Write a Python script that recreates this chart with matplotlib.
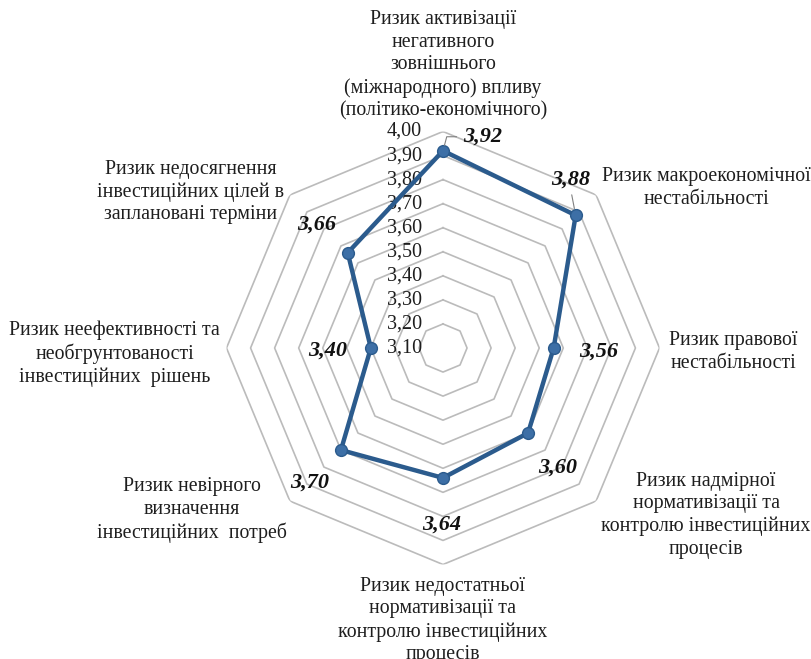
import numpy as np
import matplotlib
matplotlib.use("Agg")
import matplotlib.pyplot as plt

# --- data -------------------------------------------------------------
categories = [
    "Ризик активізації\nнегативного\nзовнішнього\n(міжнародного) впливу\n(політико-економічного)",
    "Ризик макроекономічної\nнестабільності",
    "Ризик правової\nнестабільності",
    "Ризик надмірної\nнормативізації та\nконтролю інвестиційних\nпроцесів",
    "Ризик недостатньої\nнормативізації та\nконтролю інвестиційних\nпроцесів",
    "Ризик невірного\nвизначення\nінвестиційних  потреб",
    "Ризик неефективності та\nнеобгрунтованості\nінвестиційних  рішень",
    "Ризик недосягнення\nінвестиційних цілей в\nзаплановані терміни",
]
values = [3.92, 3.88, 3.56, 3.60, 3.64, 3.70, 3.40, 3.66]
r_min, r_max = 3.10, 4.00
ring_levels = [3.20, 3.30, 3.40, 3.50, 3.60, 3.70, 3.80, 3.90, 4.00]
tick_levels = [3.10] + ring_levels

# --- layout (pixel offsets, converted to points below) ----------------
value_label_offsets = [(40, 14), (-5, 36), (45, -4), (30, -35),
                       (-1, -47), (-31, -33), (-43, -3), (-31, 28)]
cat_label_offsets = [(0, 66), (110, 7), (74, -4), (110, -14),
                     (0, -56), (-98, -9), (-112, -6), (-99, 3)]
PX = 0.72  # points per pixel at dpi 100

SERIF = "Liberation Serif"
LINE_COL = "#2B5B8D"
MARK_COL = "#3D6FA6"
GRID_COL = "#BBBBBB"
TEXT_COL = "#1E1E1E"

fig = plt.figure(figsize=(8.12, 6.59), dpi=100)
fig.patch.set_facecolor("white")

# centre at (443, 348) px from top-left, outer ring radius ~216 px
cx, cy, R = 443, 348, 216.5
ax = fig.add_axes([(cx - R) / 812, (659 - cy - R) / 659, 2 * R / 812, 2 * R / 659],
                  projection="polar")
ax.set_theta_offset(np.pi / 2)
ax.set_theta_direction(-1)
ax.set_ylim(r_min, r_max)
ax.grid(False)
ax.set_xticks([])
ax.set_yticks([])
ax.spines["polar"].set_visible(False)
ax.patch.set_alpha(0)

n = len(categories)
angles = np.arange(n) * 2 * np.pi / n
closed = np.append(angles, angles[0])

# octagonal grid rings
for lvl in ring_levels:
    ax.plot(closed, [lvl] * (n + 1), color=GRID_COL, lw=1.2, zorder=1)

# radial tick labels along the top axis
for lvl in tick_levels:
    ax.annotate(f"{lvl:.2f}".replace(".", ","), xy=(0, lvl),
                xytext=(-21 * PX, 0), textcoords="offset points",
                ha="right", va="center", fontsize=14.5, family=SERIF,
                color=TEXT_COL, annotation_clip=False, zorder=2)

# data series
vals = values + values[:1]
ax.plot(closed, vals, color=LINE_COL, lw=3.2, zorder=3, solid_joinstyle="round")
ax.plot(angles, values, "o", ms=8.5, mfc=MARK_COL, mec=LINE_COL, mew=1.0, zorder=4)

# value labels
for i, (a, v) in enumerate(zip(angles, values)):
    dx, dy = value_label_offsets[i]
    kw = {}
    if i == 0:
        kw["arrowprops"] = dict(arrowstyle="-", color="#808080", lw=0.8,
                                connectionstyle="angle,angleA=0,angleB=75,rad=0",
                                relpos=(0, 0.5), shrinkA=3, shrinkB=4)
    elif i == 1:
        kw["arrowprops"] = dict(arrowstyle="-", color="#808080", lw=0.8,
                                relpos=(0.5, 0), shrinkA=2, shrinkB=5)
    ax.annotate(f"{v:.2f}".replace(".", ","), xy=(a, v),
                xytext=(dx * PX, dy * PX), textcoords="offset points",
                ha="center", va="center", fontsize=16, family=SERIF,
                fontweight="bold", fontstyle="italic", color="#111111",
                annotation_clip=False, zorder=5, **kw)

# category labels around the outer ring
for i, (a, name) in enumerate(zip(angles, categories)):
    dx, dy = cat_label_offsets[i]
    ax.annotate(name, xy=(a, r_max), xytext=(dx * PX, dy * PX),
                textcoords="offset points", ha="center", va="center",
                multialignment="center", fontsize=14.3, family=SERIF,
                color=TEXT_COL, linespacing=1.25, annotation_clip=False)

plt.savefig("out.png", dpi=100, facecolor="white")
plt.close()
